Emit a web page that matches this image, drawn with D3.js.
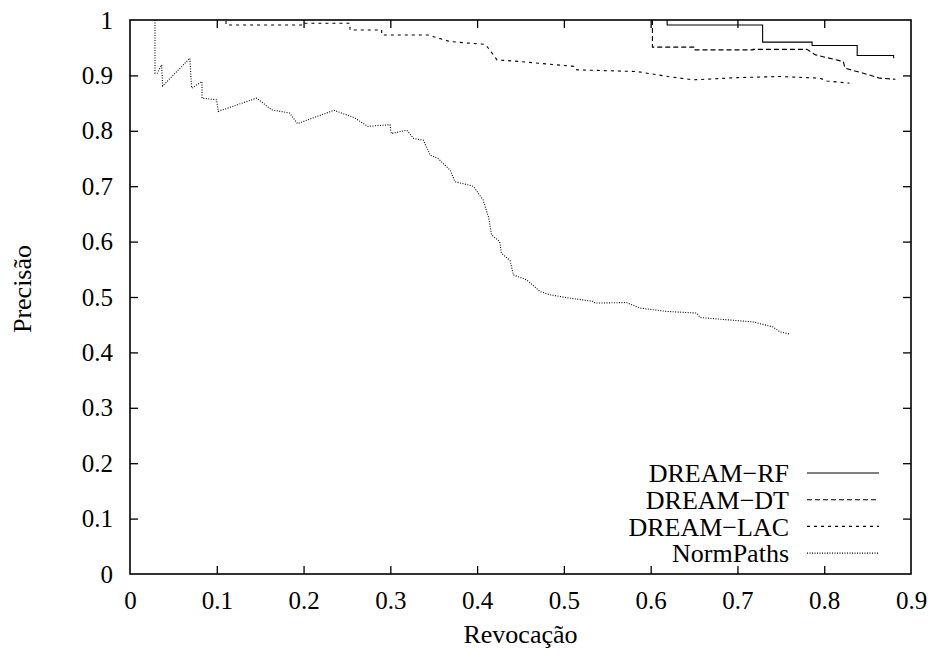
<!DOCTYPE html>
<html><head><meta charset="utf-8">
<script src="https://cdn.jsdelivr.net/npm/d3@7"></script>
<style>body{margin:0;background:#fff}svg{display:block}text{font-family:"Liberation Serif","Times New Roman",serif;fill:#000}</style>
</head><body>
<svg id="chart" width="931" height="653"></svg>
<script>
const xTicks = [0,0.1,0.2,0.3,0.4,0.5,0.6,0.7,0.8,0.9];
const yTicks = [0,0.1,0.2,0.3,0.4,0.5,0.6,0.7,0.8,0.9,1];
const seriesNames = ["DREAM\u2212RF","DREAM\u2212DT","DREAM\u2212LAC","NormPaths"];
const rf = [[0.619,1.0],[0.619,0.991],[0.729,0.991],[0.729,0.960],[0.786,0.960],[0.786,0.954],[0.838,0.954],[0.838,0.936],[0.880,0.936],[0.880,0.931]];
const dt = [[0.602,1.0],[0.602,0.951],[0.651,0.951],[0.651,0.946],[0.718,0.946],[0.718,0.947],[0.780,0.947],[0.790,0.937],[0.822,0.925],[0.824,0.913],[0.845,0.904],[0.864,0.895],[0.882,0.893]];
const lac = [[0.1106,0.998],[0.1106,0.991],[0.199,0.991],[0.199,0.994],[0.2535,0.994],[0.2535,0.982],[0.29,0.982],[0.29,0.973],[0.343,0.973],[0.369,0.961],[0.409,0.956],[0.413,0.949],[0.423,0.928],[0.45,0.925],[0.513,0.916],[0.515,0.910],[0.584,0.907],[0.62,0.898],[0.649,0.892],[0.7,0.896],[0.749,0.898],[0.795,0.895],[0.803,0.890],[0.829,0.886]];
const normPaths = [[0.0288,1.0],[0.0288,0.904],[0.0314,0.904],[0.0365,0.919],[0.0376,0.881],[0.069,0.931],[0.071,0.877],[0.083,0.889],[0.083,0.859],[0.0998,0.856],[0.1017,0.835],[0.146,0.859],[0.163,0.838],[0.184,0.832],[0.193,0.813],[0.235,0.837],[0.258,0.824],[0.274,0.808],[0.2996,0.811],[0.301,0.795],[0.319,0.801],[0.327,0.786],[0.338,0.783],[0.346,0.756],[0.355,0.750],[0.369,0.729],[0.3745,0.708],[0.388,0.703],[0.3955,0.700],[0.407,0.675],[0.413,0.645],[0.4167,0.612],[0.426,0.600],[0.428,0.579],[0.438,0.566],[0.4417,0.540],[0.457,0.531],[0.4725,0.510],[0.484,0.504],[0.507,0.498],[0.534,0.492],[0.536,0.489],[0.572,0.490],[0.588,0.480],[0.618,0.474],[0.653,0.471],[0.657,0.463],[0.695,0.458],[0.718,0.455],[0.741,0.446],[0.749,0.437],[0.7605,0.433]];

const svg = d3.select("#chart");
const L=130,R=911,T=20,B=574;
const x = d3.scaleLinear().domain([0,0.9]).range([L,R]);
const y = d3.scaleLinear().domain([0,1]).range([B,T]);
const fsTick = 25, fsText = 26, tl = 8;

const series = [
  {name:seriesNames[0], data:rf, dash:null},
  {name:seriesNames[1], data:dt, dash:"5,3"},
  {name:seriesNames[2], data:lac, dash:"3,4"},
  {name:seriesNames[3], data:normPaths, dash:"1,1.5"}
];

const fmt = d=>String(+d.toFixed(1));
const gx = svg.append("g").attr("transform",`translate(0,${B})`)
  .call(d3.axisBottom(x).tickValues(xTicks).tickSize(-tl).tickFormat(fmt));
const gxt = svg.append("g").attr("transform",`translate(0,${T})`)
  .call(d3.axisTop(x).tickValues(xTicks).tickSize(-tl).tickFormat(""));
const gy = svg.append("g").attr("transform",`translate(${L},0)`)
  .call(d3.axisLeft(y).tickValues(yTicks).tickSize(-tl).tickPadding(17).tickFormat(fmt));
const gyr = svg.append("g").attr("transform",`translate(${R},0)`)
  .call(d3.axisRight(y).tickValues(yTicks).tickSize(-tl).tickFormat(""));
[gx,gxt,gy,gyr].forEach(g=>{
  g.select(".domain").remove();
  g.selectAll("line").attr("stroke","#000").attr("stroke-width",1.3);
  g.selectAll("text").attr("font-size",fsTick).attr("font-family",'"Liberation Serif",serif').attr("fill","#000");
});
gx.selectAll(".tick line").filter(d=>d===0||d===0.9).remove();
gxt.selectAll(".tick line").filter(d=>d===0||d===0.9).remove();
gy.selectAll(".tick line").filter(d=>d===0||d===1).remove();
gyr.selectAll(".tick line").filter(d=>d===0||d===1).remove();
gx.selectAll("text").attr("dy","0.35em").attr("y",26);

svg.append("rect").attr("x",L).attr("y",T).attr("width",R-L).attr("height",B-T)
  .attr("fill","none").attr("stroke","#000").attr("stroke-width",1.6);

const line = d3.line().x(d=>x(d[0])).y(d=>y(d[1]));
series.forEach(s=>{
  svg.append("path").datum(s.data).attr("d",line).attr("fill","none")
    .attr("stroke","#000").attr("stroke-width",1.1)
    .attr("stroke-dasharray",s.dash);
});

const lg = svg.append("g");
series.forEach((s,i)=>{
  const ly = 473 + i*26.7;
  lg.append("text").attr("x",789).attr("y",ly).attr("dy","0.35em")
    .attr("text-anchor","end").attr("font-size",fsText).text(s.name);
  lg.append("line").attr("x1",807).attr("x2",879).attr("y1",ly).attr("y2",ly)
    .attr("stroke","#000").attr("stroke-width",1.1).attr("stroke-dasharray",s.dash);
});

svg.append("text").attr("x",(L+R)/2).attr("y",643).attr("text-anchor","middle")
  .attr("font-size",fsText).text("Revocação");
svg.append("text").attr("transform",`translate(31,${(T+B)/2 - 8}) rotate(-90)`)
  .attr("text-anchor","middle").attr("font-size",fsText).text("Precisão");
</script>
</body></html>
